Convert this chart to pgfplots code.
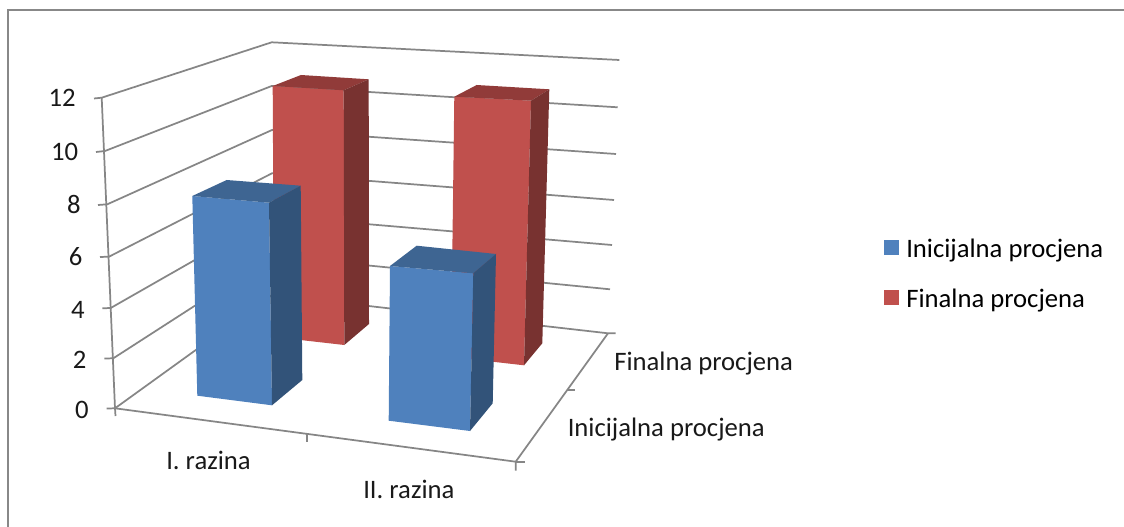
\documentclass[border=0pt]{standalone}
\usepackage{pgfplots}
\pgfplotsset{compat=1.18}
\usepackage{fontspec}
\setmainfont{Carlito}
\definecolor{bf}{HTML}{4F81BD}\definecolor{bt}{HTML}{3E6592}\definecolor{bs}{HTML}{325379}
\definecolor{rf}{HTML}{C0504D}\definecolor{rt}{HTML}{913B39}\definecolor{rs}{HTML}{783230}
\definecolor{gl}{HTML}{868686}\definecolor{bd}{HTML}{888888}
\newcommand{\lab}[3]{\node[anchor=base west,inner sep=0pt,font=\fontsize{20}{20}\selectfont,text=black!90] at (axis cs:#1,#2) {#3};}
\newcommand{\labr}[3]{\node[anchor=base east,inner sep=0pt,font=\fontsize{20}{20}\selectfont,text=black!90] at (axis cs:#1,#2) {#3};}
\begin{document}
\begin{tikzpicture}
\begin{axis}[
  scale only axis, width=843pt, height=395.25pt,
  xmin=0, xmax=1124, ymin=0, ymax=527, y dir=reverse, hide axis,
  legend style={at={(axis cs:884,240)},anchor=north west,draw=none,fill=none,
    font=\fontsize{20}{20}\selectfont,row sep=22pt,inner sep=0pt,outer sep=0pt,
    nodes={inner sep=0pt,outer sep=0pt,text depth=0.25em,text height=0.75em},
    /tikz/column 1/.style={column sep=5.5pt}},
  legend cell align=left,
  reverse legend,
  legend image code/.code={\fill[#1] (0pt,-0.7pt) rectangle (11.2pt,10.5pt);},
  grid line/.style={draw=gl,line width=1.3pt,forget plot},
  face/.style={draw=none,fill=#1,forget plot},
]
\addplot[draw=none,fill=white,forget plot] coordinates {(0,0)(1124,0)(1124,527)(0,527)} -- cycle;
\addplot[draw=bd,line width=1.5pt,forget plot] coordinates {(7.5,527)(7.5,10)(1124,10)};
% left wall grid with ticks
\addplot[grid line] coordinates {(94,98.5)(101.7,97.7)(271.7,42.3)(619.3,60)};
\addplot[grid line] coordinates {(96,152)(105,151)(271.7,86)(617.7,107.3)};
\addplot[grid line] coordinates {(98,205)(107.3,204.3)(272,130)(616,154)};
\addplot[grid line] coordinates {(100,257)(109,256.7)(272,173.3)(614,200)};
\addplot[grid line] coordinates {(102.3,308.3)(110.7,308)(272,216)(612,245)};
\addplot[grid line] coordinates {(104.3,358.5)(113.3,358.3)(272,256)(610,289.3)};
\addplot[grid line] coordinates {(106.7,408.5)(115,408.3)(272,295)(608,333.3)(615.7,333.3)};
% axes
\addplot[grid line] coordinates {(101.7,97.7)(115,408.3)(115.5,416)};
\addplot[grid line] coordinates {(115,408.3)(515.7,461.7)(515.7,470.7)};
\addplot[grid line] coordinates {(515.7,461.7)(608,333.3)};
\addplot[grid line] coordinates {(515.7,461.7)(525,461.7)};
\addplot[grid line] coordinates {(306.7,434)(306.7,442)};
\addplot[grid line] coordinates {(567,390)(575,390)};
% red bar I
\addplot[draw=none,fill=rf] coordinates {(272.7,86)(343.7,90.3)(344.3,345)(274,337)} -- cycle;
\addlegendentry{Finalna procjena}
\addplot[face=rt] coordinates {(272.7,86)(301,75)(368.7,79.3)(343.7,90.3)} -- cycle;
\addplot[face=rs] coordinates {(343.7,90.3)(368.7,79.3)(369,324)(344.3,345)} -- cycle;
% red bar II
\addplot[face=rf] coordinates {(454.3,96.7)(531,100.7)(524,365.3)(451,357)} -- cycle;
\addplot[face=rt] coordinates {(454.3,96.7)(476.7,85)(549.3,89.3)(531,100.7)} -- cycle;
\addplot[face=rs] coordinates {(531,100.7)(549.3,89.3)(542.3,343.3)(524,365.3)} -- cycle;
% blue bar I
\addplot[draw=none,fill=bf] coordinates {(192.3,196)(269,202.7)(272,405.3)(197.3,395.7)} -- cycle;
\addlegendentry{Inicijalna procjena}
\addplot[face=bt] coordinates {(192.3,196)(226.7,180)(300.7,185.7)(269,202.7)} -- cycle;
\addplot[face=bs] coordinates {(269,202.7)(300.7,185.7)(302.3,380)(272,405.3)} -- cycle;
% blue bar II
\addplot[face=bf] coordinates {(390,266)(473.3,273.3)(470,431)(388.7,420.7)} -- cycle;
\addplot[face=bt] coordinates {(390,266)(416.7,245.7)(496,254)(473.3,273.3)} -- cycle;
\addplot[face=bs] coordinates {(473.3,273.3)(496,254)(492.7,403.3)(470,431)} -- cycle;
% labels
\labr{75.8}{107}{12}\labr{78.3}{161}{10}\labr{81}{214}{8}\labr{82.7}{266}{6}
\labr{85}{318}{4}\labr{86.7}{368}{2}\labr{89}{418}{0}
\lab{166}{469}{I. razina}
\lab{363}{498}{II. razina}
\lab{614}{370}{Finalna procjena}
\lab{567.5}{436}{Inicijalna procjena}
\end{axis}
\end{tikzpicture}
\end{document}
